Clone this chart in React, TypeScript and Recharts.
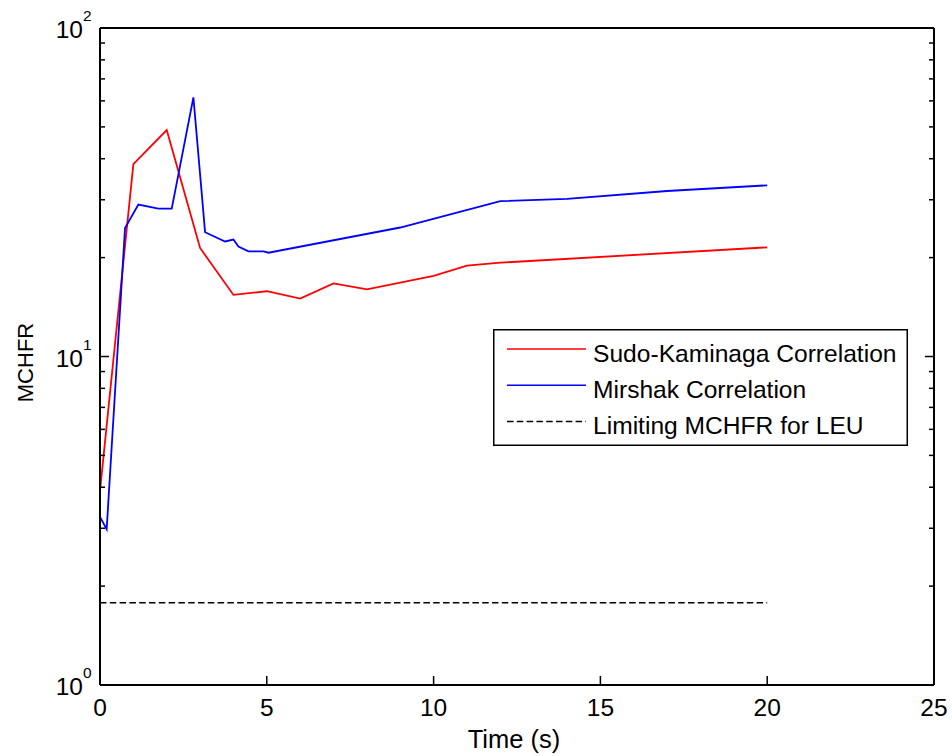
import React from 'react';
import { LineChart, Line, XAxis, YAxis, Legend } from 'recharts';

// Sudo-Kaminaga correlation (red)
const sudoTime = [0, 1, 2, 3, 4, 5, 6, 7, 8, 10, 11, 12, 20];
const sudoMchfr = [3.9, 38.5, 48.9, 21.4, 15.4, 15.8, 15.0, 16.7, 16.0, 17.6, 18.9, 19.3, 21.5];

// Mirshak correlation (blue)
const mirshakTime = [0, 0.2, 0.75, 1.15, 1.75, 2.15, 2.8, 3.15, 3.75, 4.0, 4.15, 4.45, 4.9, 5.05, 9, 12, 14, 17, 20];
const mirshakMchfr = [3.25, 2.98, 24.6, 29.0, 28.2, 28.2, 61.5, 23.9, 22.4, 22.7, 21.6, 20.9, 20.9, 20.7, 24.7, 29.7, 30.2, 31.9, 33.2];

// limiting MCHFR for LEU (dashed)
const limitTime = [0, 20];
const limitMchfr = [1.78, 1.78];

const xTicks = [0, 5, 10, 15, 20, 25];
const yTicks = [1, 2, 3, 4, 5, 6, 7, 8, 9, 10, 20, 30, 40, 50, 60, 70, 80, 90, 100];

const legendItems = [
  { name: 'Sudo-Kaminaga Correlation', color: '#ff0000', dash: undefined },
  { name: 'Mirshak Correlation', color: '#0000ff', dash: undefined },
  { name: 'Limiting MCHFR for LEU', color: '#000000', dash: '6.5 3.3' },
];

const FONT = '"Liberation Sans", Arial, Helvetica, sans-serif';

const toPoints = (ts: number[], vs: number[]) => ts.map((t, i) => ({ t, v: vs[i] }));
const sudoData = toPoints(sudoTime, sudoMchfr);
const mirshakData = toPoints(mirshakTime, mirshakMchfr);
const limitData = toPoints(limitTime, limitMchfr);

const decade = (v: number) => {
  const e = Math.round(Math.log10(v));
  return Math.abs(Math.log10(v) - e) < 1e-6 ? e : null;
};

const LeftTick = (props: any) => {
  const { x, y, payload } = props;
  const e = decade(payload.value);
  return (
    <g>
      <line x1={x} y1={y} x2={x + (e !== null ? 9 : 5)} y2={y} stroke="#000" strokeWidth={1.5} />
      {e !== null && (
        <g fontFamily={FONT} fill="#000">
          <text x={x - 17} y={y + 10} textAnchor="end" fontSize={24.5}>10</text>
          <text x={x - 17} y={y - 7} textAnchor="start" fontSize={15.5}>{e}</text>
        </g>
      )}
    </g>
  );
};

const RightTick = (props: any) => {
  const { x, y, payload } = props;
  const e = decade(payload.value);
  return <line x1={x} y1={y} x2={x - (e !== null ? 9 : 5)} y2={y} stroke="#000" strokeWidth={1.5} />;
};

const BottomTick = (props: any) => {
  const { x, y, payload } = props;
  return (
    <g>
      <line x1={x} y1={y} x2={x} y2={y - 9} stroke="#000" strokeWidth={1.5} />
      <text x={x} y={y + 31} textAnchor="middle" fontSize={24.5} fontFamily={FONT} fill="#000">
        {payload.value}
      </text>
    </g>
  );
};

const TopTick = (props: any) => {
  const { x, y } = props;
  return <line x1={x} y1={y} x2={x} y2={y + 9} stroke="#000" strokeWidth={1.5} />;
};

const renderLegend = () => (
  <svg width={415} height={117} style={{ display: 'block' }}>
    <rect x={0.75} y={0.75} width={413.5} height={115.5} fill="#fff" stroke="#000" strokeWidth={1.5} />
    {legendItems.map((item, i) => (
      <g key={item.name}>
        <line x1={14} x2={93} y1={20 + i * 36.3} y2={20 + i * 36.3} stroke={item.color} strokeWidth={1.5} strokeDasharray={item.dash} />
        <text x={100} y={32.5 + i * 36} fontSize={24.6} fontFamily={FONT} fill="#000">
          {item.name}
        </text>
      </g>
    ))}
  </svg>
);

export default function App() {
  return (
    <div style={{ position: 'absolute', left: 0, top: 0, background: '#fff' }}>
      <LineChart width={952} height={756} margin={{ top: 18, right: 8, bottom: 1, left: 20 }}>
        <XAxis
          xAxisId="b"
          dataKey="t"
          type="number"
          domain={[0, 25]}
          ticks={xTicks}
          interval={0}
          height={70}
          tickSize={0}
          tickMargin={0}
          tickLine={false}
          axisLine={{ stroke: '#000', strokeWidth: 2 }}
          tick={<BottomTick />}
          label={{ value: 'Time (s)', position: 'insideBottom', offset: 7, dx: -3, style: { fontSize: 25.5, fontFamily: FONT, fill: '#000' } }}
        />
        <XAxis
          xAxisId="t"
          orientation="top"
          dataKey="t"
          type="number"
          domain={[0, 25]}
          ticks={xTicks}
          interval={0}
          height={10}
          tickSize={0}
          tickMargin={0}
          tickLine={false}
          axisLine={{ stroke: '#000', strokeWidth: 2 }}
          tick={<TopTick />}
        />
        <YAxis
          yAxisId="l"
          type="number"
          scale="log"
          domain={[1, 100]}
          allowDataOverflow
          ticks={yTicks}
          interval={0}
          width={80}
          tickSize={0}
          tickMargin={0}
          tickLine={false}
          axisLine={{ stroke: '#000', strokeWidth: 2 }}
          tick={<LeftTick />}
          label={{ value: 'MCHFR', angle: -90, position: 'insideLeft', offset: 5.5, dy: 6, style: { fontSize: 22, fontFamily: FONT, fill: '#000', textAnchor: 'middle' } }}
        />
        <YAxis
          yAxisId="r"
          orientation="right"
          type="number"
          scale="log"
          domain={[1, 100]}
          allowDataOverflow
          ticks={yTicks}
          interval={0}
          width={10}
          tickSize={0}
          tickMargin={0}
          tickLine={false}
          axisLine={{ stroke: '#000', strokeWidth: 2 }}
          tick={<RightTick />}
        />
        <Legend
          verticalAlign="middle"
          align="center"
          layout="horizontal"
          content={renderLegend}
          wrapperStyle={{ position: 'absolute', left: 493, top: 329, width: 415, height: 117 }}
        />
        <Line xAxisId="b" yAxisId="l" data={sudoData} dataKey="v" name="Sudo-Kaminaga Correlation" stroke="#ff0000" strokeWidth={1.8} dot={false} activeDot={false} isAnimationActive={false} />
        <Line xAxisId="b" yAxisId="l" data={mirshakData} dataKey="v" name="Mirshak Correlation" stroke="#0000ff" strokeWidth={1.8} dot={false} activeDot={false} isAnimationActive={false} />
        <Line xAxisId="b" yAxisId="l" data={limitData} dataKey="v" name="Limiting MCHFR for LEU" stroke="#000" strokeWidth={1.5} strokeDasharray="6.5 3.3" dot={false} activeDot={false} isAnimationActive={false} />
      </LineChart>
    </div>
  );
}
